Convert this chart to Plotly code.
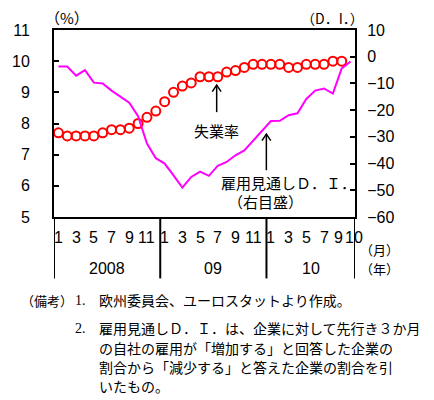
import plotly.graph_objects as go

# ---- data ----
unemp = [7.7, 7.6, 7.6, 7.6, 7.6, 7.7, 7.8, 7.8, 7.85, 8.0, 8.2, 8.4,
         8.7, 9.0, 9.2, 9.3, 9.5, 9.5, 9.5, 9.65, 9.7, 9.8, 9.9, 9.9,
         9.9, 9.9, 9.8, 9.8, 9.9, 9.9, 9.9, 10.0, 10.0]
emp_di = [-3.7, -3.7, -7.1, -5.0, -9.7, -10.0, -12.7, -14.8, -17.2, -22.3, -32.5, -38.0,
          -40.0, -44.4, -49.0, -45.0, -43.0, -44.6, -40.8, -39.4, -36.9, -35.1, -31.4, -27.5,
          -24.1, -24.0, -21.9, -21.2, -15.8, -12.7, -11.9, -13.8, -4.4, -1.8]
month_pos = [1, 3, 5, 7, 9, 11, 13, 15, 17, 19, 21, 23, 25, 27, 29, 31, 33, 34]
month_labels = ["1", "3", "5", "7", "9", "11", "1", "3", "5", "7", "9", "11",
                "1", "3", "5", "7", "9", "10"]
year_pos = [6.5, 18.5, 29.5]
year_labels = ["2008", "09", "10"]
year_bounds = [12.5, 24.5]
left_ticks = [5, 6, 7, 8, 9, 10, 11]
right_ticks = [-60, -50, -40, -30, -20, -10, 0, 10]

W, H = 434, 400
L, R, T, B = 46, 79, 30, 183.3
PW, PH = W - L - R, H - T - B


def px(xp):
    return (xp - L) / PW


def py(yp):
    return (H - B - yp) / PH


fig = go.Figure()
fig.add_trace(go.Scatter(x=list(range(1, len(unemp) + 1)), y=unemp, mode="markers",
                         marker=dict(symbol="circle-open", size=9, color="#ff0000",
                                     line=dict(width=2, color="#ff0000")),
                         showlegend=False, yaxis="y"))
fig.add_trace(go.Scatter(x=list(range(1, len(emp_di) + 1)), y=emp_di, mode="lines",
                         line=dict(color="#ff00ff", width=2),
                         showlegend=False, yaxis="y2"))

TICKFONT = dict(family="Liberation Sans, Arial, sans-serif", size=16, color="#000")
JP = "Noto Sans CJK JP, sans-serif"

fig.update_layout(
    width=W, height=H, margin=dict(l=L, r=R, t=T, b=B, pad=0),
    paper_bgcolor="white", plot_bgcolor="white",
    xaxis=dict(range=[0.5, 34.5], showticklabels=False, ticks="", showgrid=False,
               zeroline=False, showline=True, mirror=True, linecolor="#000", linewidth=2),
    yaxis=dict(range=[5, 11], tickvals=left_ticks, ticks="inside", ticklen=5,
               tickwidth=1.5, tickcolor="#000",
               showgrid=False, zeroline=False, showline=True, linecolor="#000", linewidth=2,
               tickfont=TICKFONT, ticklabelstandoff=19),
    yaxis2=dict(range=[-60, 10], tickvals=right_ticks, overlaying="y", side="right",
                ticks="inside", ticklen=5, tickwidth=1.5, tickcolor="#000",
                showgrid=False, zeroline=False, showline=True, linecolor="#000", linewidth=2,
                tickfont=TICKFONT, ticklabelstandoff=7),
)

shapes = []
ybot = py(278)
for xb in year_bounds:
    shapes.append(dict(type="line", xref="x", yref="paper", x0=xb, x1=xb, y0=0, y1=ybot,
                       line=dict(color="#000", width=2)))
for xb in [0.5, 34.5]:
    shapes.append(dict(type="line", xref="x", yref="paper", x0=xb, x1=xb, y0=0, y1=ybot,
                       line=dict(color="#000", width=2)))


def arrow(xa, ytip, ytail):
    shapes.append(dict(type="line", xref="paper", yref="paper", x0=px(xa), x1=px(xa),
                       y0=py(ytail), y1=py(ytip), line=dict(color="#000", width=1.5)))
    shapes.append(dict(type="path", xref="paper", yref="paper",
                       path=f"M {px(xa-4.5)} {py(ytip+6.5)} L {px(xa)} {py(ytip)} L {px(xa+4.5)} {py(ytip+6.5)}",
                       line=dict(color="#000", width=1.5)))


arrow(213, 85, 112)
arrow(264, 134, 170)
fig.update_layout(shapes=shapes)

ann = []
n_m = len(month_pos)
for i, (p, t) in enumerate(zip(month_pos, month_labels)):
    shift = 0
    if i == n_m - 2:
        shift = -3
    elif i == n_m - 1:
        shift = 3
    ann.append(dict(x=p, y=py(237), xref="x", yref="paper", text=t, showarrow=False,
                    font=dict(family="Liberation Sans Narrow, Liberation Sans, Arial", size=16, color="#000"),
                    xanchor="center", yanchor="middle", xshift=shift, borderpad=0))
for p, t in zip(year_pos, year_labels):
    ann.append(dict(x=p, y=py(268), xref="x", yref="paper", text=t, showarrow=False,
                    font=dict(family="Liberation Sans, Arial", size=16, color="#000"),
                    xanchor="center", yanchor="middle"))


def txt(x, y, t, size=14, anchor="center", fam=JP):
    ann.append(dict(x=px(x), y=py(y), xref="paper", yref="paper", text=t, showarrow=False,
                    font=dict(family=fam, size=size, color="#000"),
                    xanchor=anchor, yanchor="middle"))


txt(59, 18, "（%）", 15)
txt(332, 18, "（D．I．）", 14)
txt(380, 249, "（月）", 13)
txt(380, 268, "（年）", 13)
txt(213, 130, "失業率", 15)
txt(287, 182, "雇用見通しＤ．Ｉ．", 15)
txt(263, 201, "（右目盛）", 15)

txt(10, 300, "（備考）", 13, "left")
txt(66, 300, "1.", 14, "left", "Liberation Serif, serif")
txt(90, 300, "欧州委員会、ユーロスタットより作成。", 14, "left")
txt(66, 328, "2.", 14, "left", "Liberation Serif, serif")
txt(90, 328, "雇用見通しＤ．Ｉ．は、企業に対して先行き３か月", 14, "left")
txt(90, 347.5, "の自社の雇用が「増加する」と回答した企業の", 14, "left")
txt(90, 366.5, "割合から「減少する」と答えた企業の割合を引", 14, "left")
txt(90, 385, "いたもの。", 14, "left")

fig.update_layout(annotations=ann)
fig.write_html("out.html")
